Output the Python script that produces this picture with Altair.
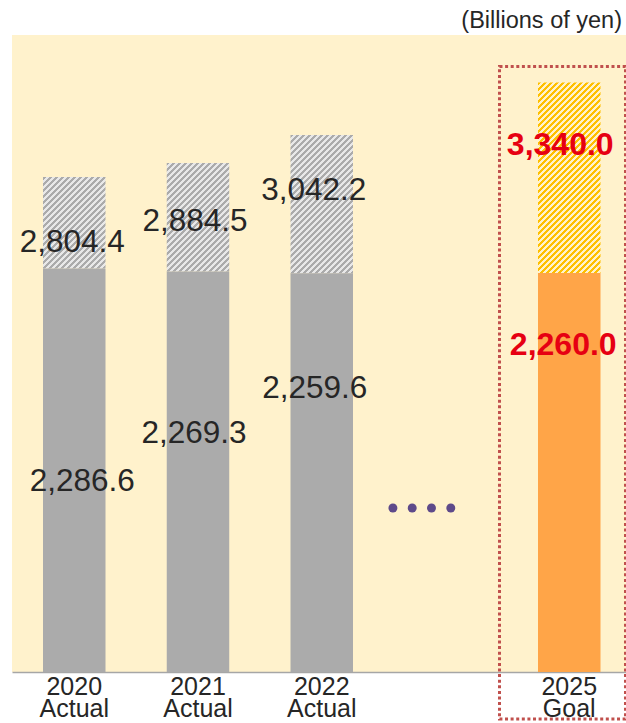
import altair as alt
import pandas as pd

# ---------------- data ----------------
years = ["2020", "2021", "2022", "2025"]
kinds = ["Actual", "Actual", "Actual", "Goal"]
solid_values = [2286.6, 2269.3, 2259.6, 2260.0]
total_values = [2804.4, 2884.5, 3042.2, 3340.0]
solid_labels = ["2,286.6", "2,269.3", "2,259.6", "2,260.0"]
total_labels = ["2,804.4", "2,884.5", "3,042.2", "3,340.0"]
unit_title = "(Billions of yen)"

# ---------------- layout (not data) ----------------
GAP = "gap"
cats = [f"{y}|{k}" for y, k in zip(years, kinds)]
x_domain = cats[:3] + [GAP] + cats[3:]
W, H = 614, 637
Y_MAX = 3609
STEP = 123.75
P_INNER = 0.495
P_OUTER = 0.2505
RANGE_END = STEP * (5 - P_INNER + 2 * P_OUTER)
BW = STEP * (1 - P_INNER)
# label anchors (data units, baseline) and horizontal nudges (px)
solid_label_y = [1027, 1297, 1552, 1796]
total_label_y = [2380, 2499, 2674, 2929]
solid_label_dx = [8, -4, -7, -6]
total_label_dx = [-2, -3, -8, -9]
dots_level = 929
dot_dx = [-52.6, -33.3, -14.0, 5.3]

FONT = "Liberation Sans"
TXT = "#262626"
RED = "#E60012"

df = pd.DataFrame({"cat": cats, "kind": kinds, "solid": solid_values, "total": total_values})

yscale = alt.Scale(domain=[0, Y_MAX], nice=False, zero=True)
xscale = alt.Scale(domain=x_domain, range=[0, RANGE_END], paddingInner=P_INNER, paddingOuter=P_OUTER)

x_axis = alt.Axis(
    title=None,
    labelExpr="datum.value == 'gap' ? '' : split(datum.value, '|')",
    labelFont=FONT,
    labelFontSize=25,
    labelColor=TXT,
    labelLineHeight=22,
    labelAngle=0,
    labelPadding=2,
    ticks=False,
    domainColor="#A6A6A6",
    domainWidth=1.5,
    grid=False,
)


def X():
    return alt.X("cat:N", scale=xscale, axis=x_axis, sort=x_domain)


def hatch(dark, light, h_px, w_px, period_px=6.0, dark_frac=0.5):
    r = h_px / w_px
    norm = w_px * (1 + r * r)
    p = period_px / norm
    tmax = min((w_px + h_px) / norm, 1.0)
    stops = []
    t = 0.0
    while t < tmax:
        a = round(t, 6)
        b = round(min(t + p * dark_frac, 1.0), 6)
        c = round(min(t + p, 1.0), 6)
        stops += [
            {"offset": a, "color": dark},
            {"offset": b, "color": dark},
            {"offset": b, "color": light},
            {"offset": c, "color": light},
        ]
        t += p
    return {"gradient": "linear", "x1": 0, "y1": 0, "x2": 1, "y2": round(r, 6), "stops": stops}


layers = []

# hatched upper parts (one gradient per bar, since each has its own box)
for i in range(len(cats)):
    h_px = (total_values[i] - solid_values[i]) * H / Y_MAX
    if kinds[i] == "Goal":
        g = hatch("#FFC000", "#FFF2CC", h_px, BW, dark_frac=0.55)
    else:
        g = hatch("#ABABAB", "#E8E8E8", h_px, BW)
    layers.append(
        alt.Chart(df.iloc[[i]]).mark_bar(fill=g).encode(
            x=X(),
            y=alt.Y("solid:Q", scale=yscale, axis=None),
            y2="total:Q",
        )
    )

# solid lower parts
layers.append(
    alt.Chart(df).mark_bar().encode(
        x=X(),
        y=alt.Y("solid:Q", scale=yscale, axis=None),
        color=alt.Color("kind:N", scale=alt.Scale(domain=["Actual", "Goal"], range=["#ABABAB", "#FFA548"]), legend=None),
    )
)

# dotted frame around the goal bar
goal = df[df["kind"] == "Goal"]
layers.append(
    alt.Chart(goal).mark_bar(
        width=126, xOffset=-6.75, yOffset=-16, y2Offset=47,
        fillOpacity=0, stroke="#C0504D", strokeWidth=3, strokeDash=[3, 2.6],
    ).encode(
        x=X(),
        y=alt.Y("total:Q", scale=yscale, axis=None),
        y2=alt.datum(0),
    )
)

# "...." marker in the gap
gap_df = pd.DataFrame({"cat": [GAP], "v": [dots_level]})
for d in dot_dx:
    layers.append(
        alt.Chart(gap_df).mark_circle(size=80, opacity=1, color="#5E4A8A", xOffset=d).encode(
            x=X(), y=alt.Y("v:Q", scale=yscale, axis=None)
        )
    )

# value labels
for i in range(len(cats)):
    goal_bar = kinds[i] == "Goal"
    style = dict(
        font=FONT,
        fontSize=32 if goal_bar else 31.5,
        fontWeight="bold" if goal_bar else "normal",
        color=RED if goal_bar else TXT,
        align="center",
        baseline="alphabetic",
    )
    for text, ly, dx in [
        (solid_labels[i], solid_label_y[i], solid_label_dx[i]),
        (total_labels[i], total_label_y[i], total_label_dx[i]),
    ]:
        ldf = pd.DataFrame({"cat": [cats[i]], "ly": [ly], "t": [text]})
        layers.append(
            alt.Chart(ldf).mark_text(dx=dx, **style).encode(
                x=X(), y=alt.Y("ly:Q", scale=yscale, axis=None), text="t:N"
            )
        )

# unit note above the plot
layers.append(
    alt.Chart(pd.DataFrame({"t": [unit_title]})).mark_text(
        font=FONT, fontSize=23.5, color=TXT, align="right", baseline="alphabetic"
    ).encode(x=alt.value(W - 4), y=alt.value(-7), text="t:N")
)

chart = (
    alt.layer(*layers)
    .properties(
        width=W,
        height=H,
        autosize=alt.AutoSizeParams(type="none"),
        padding={"left": 12, "top": 35, "right": 0, "bottom": 51},
        background="white",
    )
    .configure_view(fill="#FFF2CC", strokeWidth=0)
)

chart.save("out.html", embed_options={"renderer": "svg", "actions": False})
